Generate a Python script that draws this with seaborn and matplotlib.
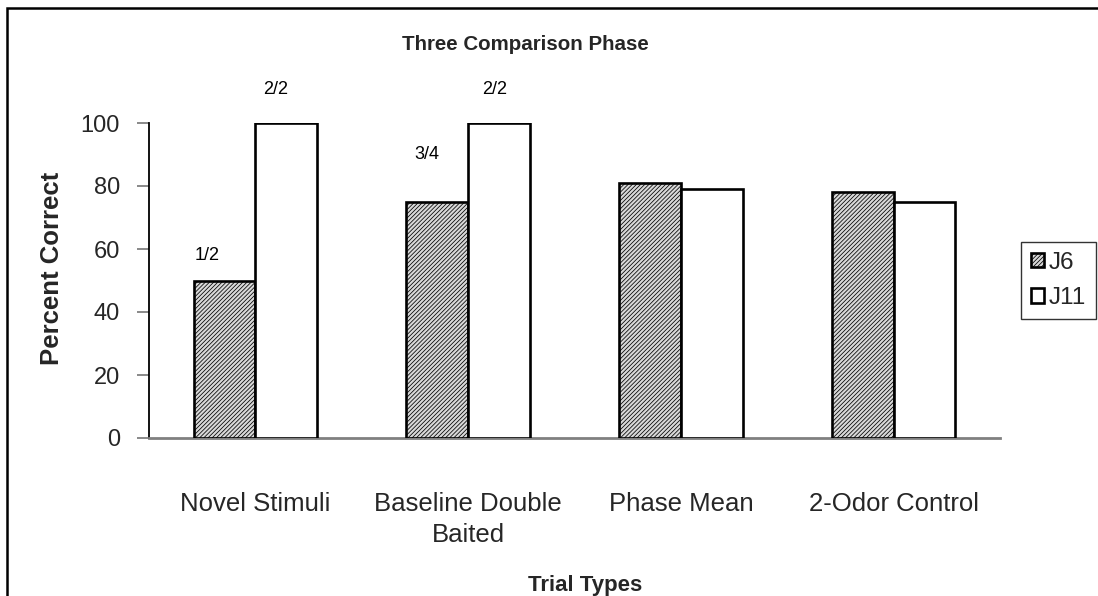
import matplotlib
matplotlib.use("Agg")
import matplotlib.pyplot as plt
import seaborn as sns
import pandas as pd
from matplotlib.patches import Rectangle

categories = ["Novel Stimuli", "Baseline Double\nBaited", "Phase Mean", "2-Odor Control"]
series_names = ["J6", "J11"]
j6_values = [50, 75, 81, 78]
j11_values = [100, 100, 79, 75]
# data labels (fraction correct) attached to bars: (series, category index, text)
bar_labels = [("J6", 0, "1/2"), ("J11", 0, "2/2"), ("J6", 1, "3/4"), ("J11", 1, "2/2")]
yticks = [0, 20, 40, 60, 80, 100]

sns.set_theme(style="white")
plt.rcParams["font.family"] = ["Liberation Sans", "DejaVu Sans"]
plt.rcParams["hatch.linewidth"] = 0.55
plt.rcParams["hatch.color"] = "#404040"

df = pd.DataFrame({
    "category": categories * 2,
    "series": [series_names[0]] * 4 + [series_names[1]] * 4,
    "value": j6_values + j11_values,
})

fig = plt.figure(figsize=(10.98, 5.96), dpi=100)
ax = fig.add_axes([149 / 1098, 1 - 438 / 596, (1000 - 149) / 1098, (438 - 123) / 596])

sns.barplot(data=df, x="category", y="value", hue="series", order=categories,
            hue_order=series_names, palette=["white", "white"], width=0.58,
            edgecolor="black", linewidth=1.9, saturation=1, ax=ax, legend=True)

n = len(categories)
patches = [p for p in ax.patches if p.get_height() > 0 or p.get_width() > 0][: 2 * n]
HATCH = "////////"
FILL = "#d8d8d8"
for i, p in enumerate(patches):
    if i < n:
        p.set_hatch(HATCH)
        p.set_facecolor(FILL)
    p.set_zorder(3)

# data labels
offsets = {("J6", 0): (-0.08, 7.8), ("J11", 0): (-0.05, 10.5), ("J6", 1): (-0.05, 15), ("J11", 1): (-0.02, 10.5)}
for s, ci, txt in bar_labels:
    idx = series_names.index(s) * n + ci
    p = patches[idx]
    dx, dy = offsets[(s, ci)]
    ax.text(p.get_x() + p.get_width() / 2 + dx, p.get_height() + dy, txt,
            ha="center", va="center", fontsize=13, color="black", clip_on=False)

ax.set_ylim(0, 100)
ax.set_xlim(-0.5, n - 0.5)
ax.set_yticks(yticks)
ax.set_yticklabels([str(v) for v in yticks], fontsize=17)
ax.tick_params(axis="y", which="major", direction="out", length=9, width=1.3,
               color="#808080", pad=12, left=True)
ax.set_xticks(range(n))
ax.set_xticklabels(categories, fontsize=18.5, linespacing=1.35)
ax.tick_params(axis="x", which="major", length=0, pad=39)
ax.set_xticks([i + 0.5 for i in range(-1, n)], minor=True)
ax.tick_params(axis="x", which="minor", direction="out", length=8, width=1.5, color="black")

for side in ["top", "right"]:
    ax.spines[side].set_visible(False)
ax.spines["left"].set_color("black")
ax.spines["left"].set_linewidth(1.3)
ax.spines["bottom"].set_color("#808080")
ax.spines["bottom"].set_linewidth(2)
ax.grid(False)

ax.set_xlabel("Trial Types", fontsize=16, fontweight="bold")
ax.xaxis.set_label_coords((585 - 149) / (1000 - 149), -(585 - 438) / (438 - 123))
ax.xaxis.label.set_va("center")
ax.set_ylabel("Percent Correct", fontsize=18.5, fontweight="bold")
ax.yaxis.set_label_coords(-(149 - 52) / (1000 - 149), (438 - 268) / (438 - 123))
ax.yaxis.label.set_va("center")
fig.text(525 / 1098, 1 - 45 / 596, "Three Comparison Phase", ha="center", va="center",
         fontsize=14.8, fontweight="bold")

handles, labels = ax.get_legend_handles_labels()
ax.get_legend().remove()
handles[0].set_hatch(HATCH)
handles[0].set_facecolor(FILL)
for h in handles:
    h.set_edgecolor("black")
    h.set_linewidth(1.9)
leg = fig.legend(handles, labels, loc="upper left", bbox_to_anchor=(1021 / 1098, 1 - 242 / 596),
                 fontsize=17.5, frameon=True, fancybox=False, handlelength=0.55, handleheight=0.55,
                 handletextpad=0.2, borderpad=0.4, labelspacing=0.55, borderaxespad=0)
leg.get_frame().set_edgecolor("black")
leg.get_frame().set_linewidth(1.0)

fig.patches.append(Rectangle((7 / 1098, -0.1), 1.2, 1 - 8 / 596 + 0.1, transform=fig.transFigure,
                             fill=False, edgecolor="black", linewidth=1.8, zorder=0))

fig.savefig("out.png", dpi=100)
